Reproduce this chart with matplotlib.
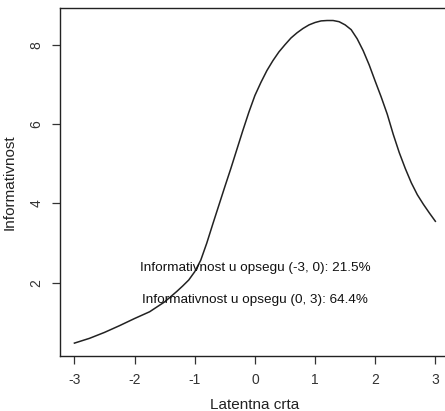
import numpy as np
import matplotlib
matplotlib.use('Agg')
import matplotlib.pyplot as plt

plt.rcParams['font.family'] = ['Liberation Sans', 'DejaVu Sans']

theta = [-3, -2.75, -2.5, -2.25, -2, -1.75, -1.5, -1.3, -1.2, -1.1, -1.0, -0.9, -0.8,
         -0.7, -0.6, -0.5, -0.4, -0.3, -0.2, -0.1, 0, 0.1, 0.2, 0.3, 0.4, 0.5,
         0.6, 0.7, 0.8, 0.9, 1.0, 1.1, 1.2, 1.3, 1.4, 1.5, 1.6, 1.7, 1.8, 1.9,
         2.0, 2.1, 2.2, 2.3, 2.4, 2.5, 2.6, 2.7, 2.8, 2.9, 3.0]
info = [0.48, 0.60, 0.75, 0.92, 1.10, 1.27, 1.52, 1.78, 1.92, 2.07, 2.28, 2.57, 3.00,
        3.48, 3.95, 4.42, 4.88, 5.36, 5.84, 6.30, 6.72, 7.05, 7.35, 7.60, 7.82, 8.00,
        8.17, 8.30, 8.41, 8.50, 8.56, 8.60, 8.61, 8.61, 8.58, 8.50, 8.38, 8.15, 7.85, 7.49,
        7.08, 6.68, 6.25, 5.74, 5.28, 4.88, 4.52, 4.22, 3.98, 3.76, 3.55]
xticks = [-3, -2, -1, 0, 1, 2, 3]
yticks = [2, 4, 6, 8]
notes = ['Informativnost u opsegu (-3, 0): 21.5%',
         'Informativnost u opsegu (0, 3): 64.4%']
note_y = [2.38, 1.57]

fig = plt.figure(figsize=(4.45, 4.11), dpi=100)
ax = fig.add_axes([0.1348, 0.1338, 0.876, 0.8467])
ax.plot(theta, info, color='#222222', lw=1.1)

ax.set_xlim(-3.24, 3.24)
ax.set_ylim(0.155, 8.925)
ax.set_xticks(xticks)
ax.set_xticklabels([str(v) for v in xticks])
ax.set_yticks(yticks)
ax.set_yticklabels([str(v) for v in yticks], rotation=90, va='center')
ax.tick_params(direction='out', length=6, width=0.9, labelsize=10,
               colors='#333333', pad=6)
for s in ax.spines.values():
    s.set_linewidth(1.0)
    s.set_color('#222222')

for t, yy in zip(notes, note_y):
    ax.text(0, yy, t, ha='center', va='center', fontsize=9.7, color='#111111')

ax.set_xlabel('Latentna crta', fontsize=11, labelpad=8, color='#222222')
ax.set_ylabel('Informativnost', fontsize=11, labelpad=9, color='#222222')

fig.savefig('out.png', dpi=100)
